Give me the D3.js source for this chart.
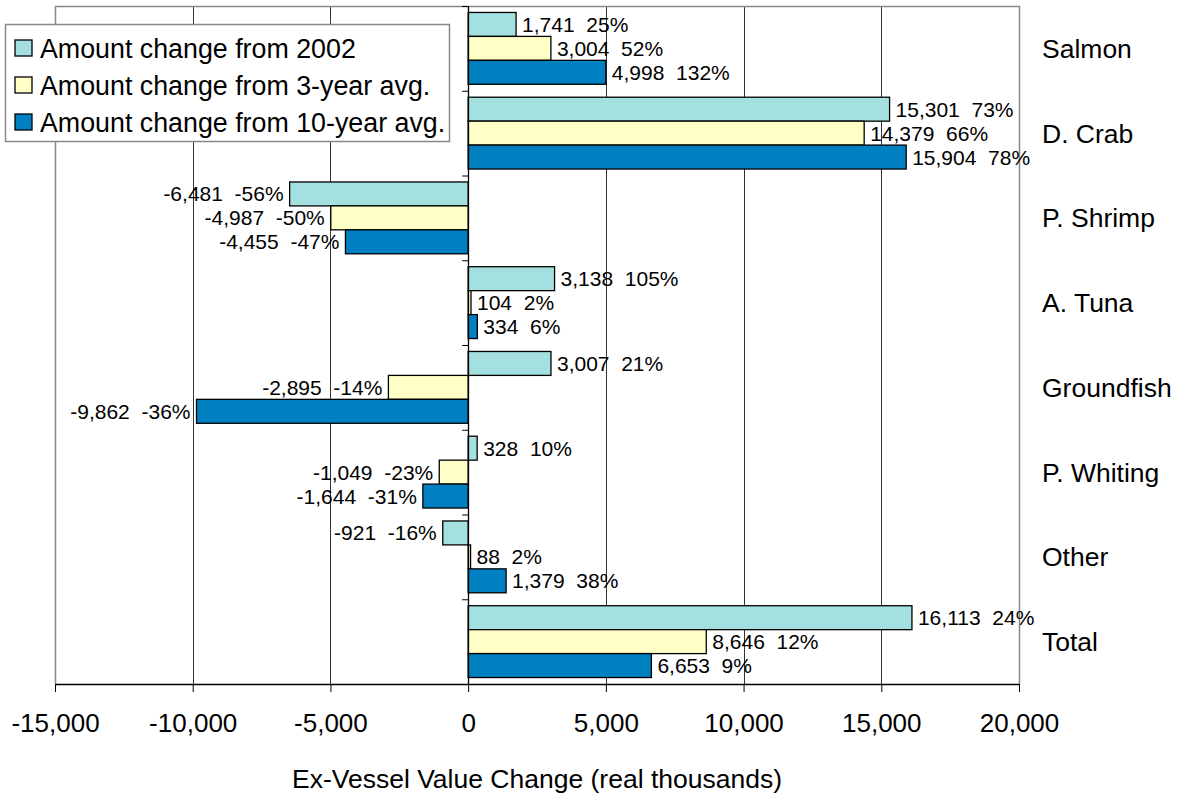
<!DOCTYPE html>
<html>
<head>
<meta charset="utf-8">
<script src="https://cdn.jsdelivr.net/npm/d3@7"></script>
<style>
  body { margin: 0; background: #fff; }
  text { font-family: "Liberation Sans", Arial, sans-serif; fill: #000; }
  .lbl { white-space: pre; }
</style>
</head>
<body>
<div class="chart"></div>
<script>
var categories = ['Salmon', 'D. Crab', 'P. Shrimp', 'A. Tuna', 'Groundfish', 'P. Whiting', 'Other', 'Total'];
var seriesNames = ['Amount change from 2002', 'Amount change from 3-year avg.', 'Amount change from 10-year avg.'];
var from2002 = [1741, 15301, -6481, 3138, 3007, 328, -921, 16113];
var pct2002 = [25, 73, -56, 105, 21, 10, -16, 24];
var from3yr = [3004, 14379, -4987, 104, -2895, -1049, 88, 8646];
var pct3yr = [52, 66, -50, 2, -14, -23, 2, 12];
var from10yr = [4998, 15904, -4455, 334, -9862, -1644, 1379, 6653];
var pct10yr = [132, 78, -47, 6, -36, -31, 38, 9];
var xTicks = [-15000, -10000, -5000, 0, 5000, 10000, 15000, 20000];
var colors = ['#a4e0e0', '#ffffc6', '#0080c0'];

var svgWidth = 1178;
var svgHeight = 796;
var plot = { left: 55, right: 1019, top: 6, bottom: 684 };

var svg = d3.select('.chart')
  .append('svg')
  .attr('width', svgWidth)
  .attr('height', svgHeight);

// plain hyphen instead of unicode minus
var fmt = d => d3.format(',')(d).replace('\u2212', '-');

// flatten into rows per bar
var values = [from2002, from3yr, from10yr];
var pcts = [pct2002, pct3yr, pct10yr];
var rows = [];
categories.forEach(function(c, i) {
  seriesNames.forEach(function(s, j) {
    rows.push({ cat: c, series: s, idx: j, value: values[j][i], pct: pcts[j][i] });
  });
});

var x = d3.scaleLinear()
  .domain([-15000, 20000])
  .range([plot.left, plot.right]);

var y = d3.scaleBand()
  .domain(categories)
  .range([plot.top, plot.bottom]);

var yInner = d3.scaleBand()
  .domain(seriesNames)
  .range([0, y.bandwidth()])
  .paddingOuter(0.27);

// gridlines
svg.append('g')
  .selectAll('line')
  .data(xTicks.filter(d => d !== 0 && d !== -15000 && d !== 20000))
  .enter()
  .append('line')
  .attr('x1', d => Math.round(x(d)) + 0.5)
  .attr('x2', d => Math.round(x(d)) + 0.5)
  .attr('y1', plot.top)
  .attr('y2', plot.bottom)
  .attr('stroke', '#333')
  .attr('stroke-width', 1);

// plot border (top, left, right)
svg.append('path')
  .attr('d', `M${plot.left + 0.5},${plot.bottom} V${plot.top + 0.5} H${plot.right + 0.5} V${plot.bottom}`)
  .attr('fill', 'none')
  .attr('stroke', '#888')
  .attr('stroke-width', 1.5);

// bars
svg.append('g')
  .selectAll('rect')
  .data(rows)
  .enter()
  .append('rect')
  .attr('x', d => x(Math.min(0, d.value)))
  .attr('y', d => y(d.cat) + yInner(d.series))
  .attr('width', d => Math.abs(x(d.value) - x(0)))
  .attr('height', yInner.bandwidth())
  .attr('fill', d => colors[d.idx])
  .attr('stroke', '#000')
  .attr('stroke-width', 1.3);

// data labels
svg.append('g')
  .selectAll('text')
  .data(rows)
  .enter()
  .append('text')
  .attr('class', 'lbl')
  .attr('xml:space', 'preserve')
  .attr('x', d => d.value >= 0 ? x(d.value) + 6 : x(d.value) - 6)
  .attr('y', d => y(d.cat) + yInner(d.series) + yInner.bandwidth() / 2)
  .attr('dy', '0.36em')
  .attr('text-anchor', d => d.value >= 0 ? 'start' : 'end')
  .style('font-size', '21px')
  .text(d => fmt(d.value) + '  ' + d.pct + '%');

// zero axis with category ticks
svg.append('line')
  .attr('x1', Math.round(x(0)) + 0.5)
  .attr('x2', Math.round(x(0)) + 0.5)
  .attr('y1', plot.top)
  .attr('y2', plot.bottom)
  .attr('stroke', '#000')
  .attr('stroke-width', 1.3);
svg.append('g')
  .selectAll('line')
  .data(categories.map(c => y(c)).concat([plot.bottom]))
  .enter()
  .append('line')
  .attr('x1', x(0) - 6)
  .attr('x2', x(0))
  .attr('y1', d => d + 0.5)
  .attr('y2', d => d + 0.5)
  .attr('stroke', '#000')
  .attr('stroke-width', 1);

// category labels on the right
svg.append('g')
  .selectAll('text')
  .data(categories)
  .enter()
  .append('text')
  .attr('x', plot.right + 23)
  .attr('y', d => y(d) + y.bandwidth() / 2)
  .attr('dy', '0.36em')
  .style('font-size', '26.5px')
  .text(d => d);

// bottom axis
var bottomAxis = d3.axisBottom(x)
  .tickValues(xTicks)
  .tickSize(8)
  .tickSizeOuter(0)
  .tickPadding(22)
  .tickFormat(fmt);

var xAxisG = svg.append('g')
  .attr('transform', `translate(0, ${plot.bottom})`)
  .call(bottomAxis);
xAxisG.select('.domain').attr('stroke', '#000').attr('stroke-width', 1.3);
xAxisG.selectAll('.tick line').attr('stroke', '#000');
xAxisG.selectAll('.tick text')
  .style('font-size', '26px')
  .style('font-family', '"Liberation Sans", Arial, sans-serif')
  .attr('fill', '#000');

svg.append('text')
  .attr('x', (plot.left + plot.right) / 2)
  .attr('y', 788)
  .attr('text-anchor', 'middle')
  .style('font-size', '26.5px')
  .text('Ex-Vessel Value Change (real thousands)');

// legend
var legend = svg.append('g');
legend.append('rect')
  .attr('x', 5.5)
  .attr('y', 24.5)
  .attr('width', 444)
  .attr('height', 117)
  .attr('fill', '#fff')
  .attr('stroke', '#888')
  .attr('stroke-width', 1.5);

var legendItems = legend.selectAll('g.item')
  .data(seriesNames)
  .enter()
  .append('g')
  .attr('class', 'item')
  .attr('transform', (d, i) => `translate(15, ${40 + i * 37})`);

legendItems.append('rect')
  .attr('width', 17)
  .attr('height', 16)
  .attr('fill', (d, i) => colors[i])
  .attr('stroke', '#000')
  .attr('stroke-width', 1.3);

legendItems.append('text')
  .attr('x', 25)
  .attr('y', 8)
  .attr('dy', '0.36em')
  .style('font-size', '26.8px')
  .text(d => d);
</script>
</body>
</html>
